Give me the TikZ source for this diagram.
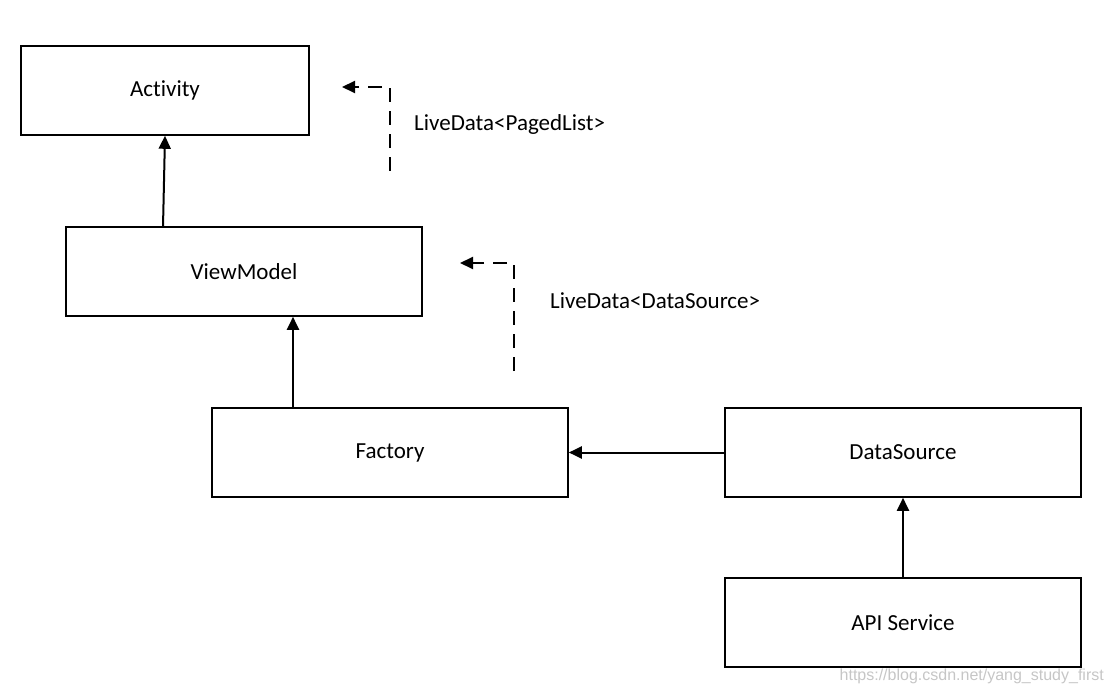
\documentclass[tikz,border=0pt]{standalone}
\usepackage{fontspec}
\setmainfont[Ligatures=NoCommon]{Carlito}
\newfontfamily\wmfont{Liberation Sans}
\usetikzlibrary{arrows.meta}
\begin{document}
\begin{tikzpicture}[x=1pt,y=-1pt,
  box/.style={draw,line width=1.6pt,minimum width=356pt,minimum height=89pt,inner sep=0pt,font=\fontsize{23}{27}\selectfont},
  conn/.style={line width=2pt,-{Triangle[length=13pt,width=12pt]}},
  dconn/.style={line width=2pt,dash pattern=on 14pt off 9pt,-{Triangle[length=13pt,width=12pt]}},
  lbl/.style={anchor=west,inner sep=0pt,font=\fontsize{23}{27}\selectfont}]
\useasboundingbox (0,0) rectangle (1113,692);
\node[box,minimum width=288pt] (act) at (165,90.5) {\raisebox{-2pt}{Activity}};
\node[box] (vm) at (244,271.5) {\raisebox{-1pt}{ViewModel}};
\node[box] (fac) at (390,452.5) {\raisebox{-1.5pt}{Factory}};
\node[box] (ds) at (903,452.5) {DataSource};
\node[box] (api) at (903,622.5) {API Service};
\draw[conn] (163,227) -- (act.south);
\draw[conn] (fac.north -| 293,0) -- (vm.south -| 293,0);
\draw[conn] (ds.west) -- (fac.east);
\draw[conn] (api.north) -- (ds.south);
\coordinate (d1s) at (390,171);
\coordinate (d1e) at (342,87);
\draw[dconn] (d1s) -- (390,87) -- (d1e);
\node[lbl] (l1) at (414,124) {LiveData<PagedList>};
\coordinate (d2s) at (514,371);
\coordinate (d2e) at (460,263);
\draw[dconn] (d2s) -- (514,263) -- (d2e);
\node[lbl] (l2) at (550,301) {LiveData<DataSource>};
\node[anchor=east,inner sep=0pt,text=gray!45,font=\wmfont\fontsize{16}{19}\selectfont] (wm) at (1104,676) {https://blog.csdn.net/yang\_study\_first};
\end{tikzpicture}
\end{document}
